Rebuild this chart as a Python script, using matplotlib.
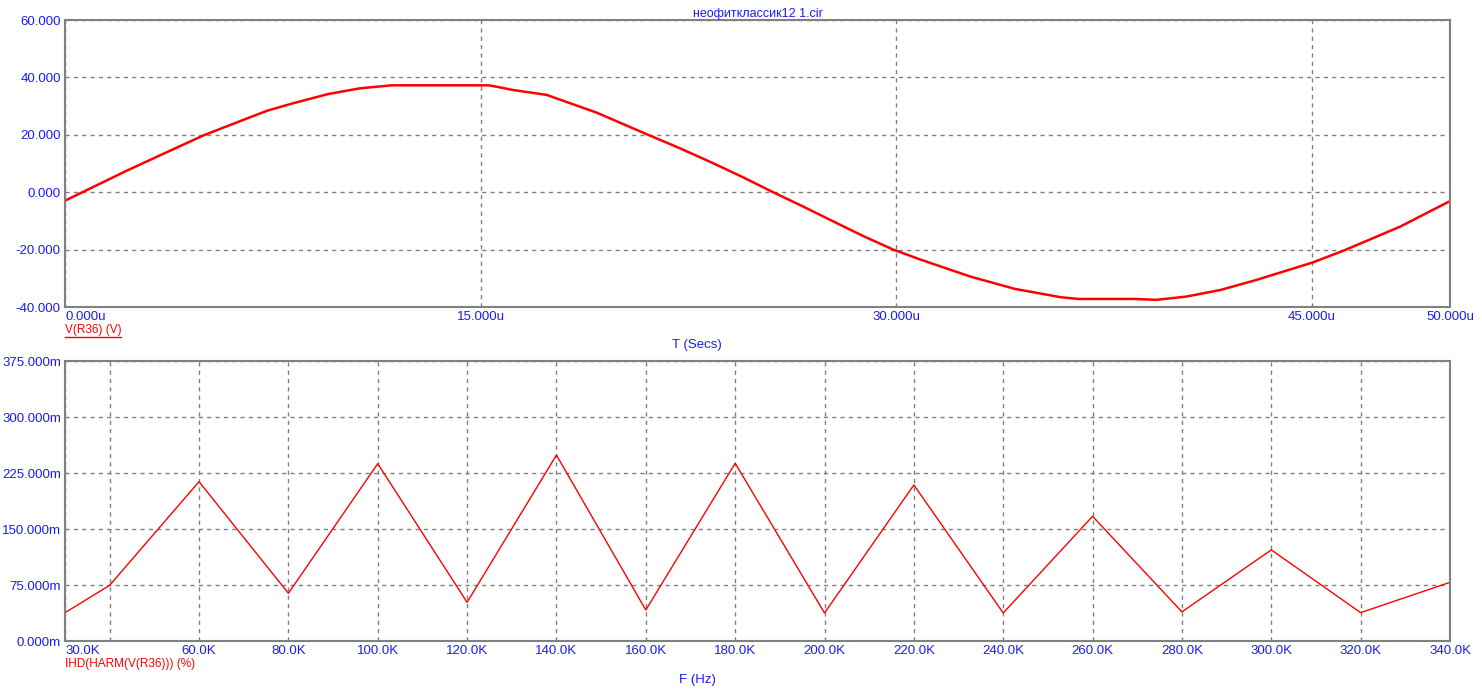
import matplotlib
matplotlib.use('Agg')
import matplotlib.pyplot as plt
from matplotlib.lines import Line2D

plt.rcParams['font.family'] = ['Liberation Sans', 'DejaVu Sans']
plt.rcParams['font.size'] = 9.5

BLUE = '#1a1aff'
RED = '#ff0000'
GRAY = '#808080'

# transient V(R36), time in us
t_us = [0, 2.23, 3.6, 5.0, 6.44, 7.3, 8.24, 9.5, 10.65, 11.8, 15.3, 15.5, 16.18, 17.39,
        19.2, 20.16, 21.1, 22.2, 23.4, 24.5, 25.56, 26.65, 27.7, 28.8, 29.9, 30.86,
        31.8, 32.72, 34.3, 35.95, 36.6, 38.65, 39.4, 40.46, 41.7, 43.0, 45.04, 46.2,
        48.2, 50]
v_r36 = [-2.96, 7.5, 13.6, 19.8, 25.2, 28.4, 31.0, 34.2, 36.2, 37.24, 37.24, 36.9, 35.6,
         33.9, 27.7, 23.7, 19.8, 15.3, 10.1, 5.1, 0, -5.0, -10.0, -15.2, -20, -23.4,
         -26.5, -29.5, -33.7, -36.6, -37.2, -37.2, -37.5, -36.4, -34.1, -30.6, -24.5,
         -20.2, -12.0, -3.1]

t_ticks = [0, 15, 30, 45, 50]
t_labels = ['0.000u', '15.000u', '30.000u', '45.000u', '50.000u']
v_ticks = [-40, -20, 0, 20, 40, 60]
v_labels = ['-40.000', '-20.000', '0.000', '20.000', '40.000', '60.000']

# harmonic distortion, freq in kHz, IHD in m%
f_khz = [30, 40, 60, 80, 100, 120, 140, 160, 180, 200, 220, 240, 260, 280, 300, 320, 340]
ihd_m = [37.9, 74.6, 213.4, 63.9, 237.5, 51.8, 249, 41.5, 238, 37.5, 209, 37.5,
         167, 39, 122, 38, 78.6]

f_ticks = [30, 40] + list(range(60, 341, 20))
f_labels = ['30.0K', ''] + ['%d.0K' % f for f in range(60, 341, 20)]
i_ticks = [0, 75, 150, 225, 300, 375]
i_labels = ['0.000m', '75.000m', '150.000m', '225.000m', '300.000m', '375.000m']

fig = plt.figure(figsize=(14.82, 7.0), dpi=100)
W, H = 1482, 700


def make_axes(l, t, r, b):
    ax = fig.add_axes([l / W, 1 - b / H, (r - l) / W, (b - t) / H])
    for s in ax.spines.values():
        s.set_color(GRAY)
        s.set_linewidth(1.5)
    ax.tick_params(length=0, colors=BLUE, pad=3)
    ax.grid(True, color=GRAY, linestyle=(0, (3, 3)), linewidth=1)
    return ax


ax1 = make_axes(65, 20, 1450, 307)
ax1.plot(t_us, v_r36, color=RED, linewidth=1.8)
ax1.set_xlim(0, 50)
ax1.set_ylim(-40, 60)
ax1.set_xticks(t_ticks, t_labels)
ax1.set_yticks(v_ticks, v_labels)
ax1.get_xticklabels()[0].set_horizontalalignment('left')
ax1.set_title('неофитклассик12 1.cir', color=BLUE, fontsize=9, pad=1.5)

ax2 = make_axes(65, 361, 1450, 641)
ax2.plot(f_khz, ihd_m, color=RED, linewidth=1)
ax2.set_xlim(30, 340)
ax2.set_ylim(0, 375)
ax2.set_xticks(f_ticks, f_labels)
ax2.set_yticks(i_ticks, i_labels)
ax2.get_xticklabels()[0].set_horizontalalignment('left')

for a in (ax1, ax2):
    for lab in a.get_xticklabels() + a.get_yticklabels():
        lab.set_color(BLUE)

# axis captions
fig.text(65 / W, 1 - 330 / H, 'V(R36) (V)', color=RED, va='center', ha='left', fontsize=8.5)
fig.text(697 / W, 1 - 345 / H, 'T (Secs)', color=BLUE, va='center', ha='center')
fig.text(65 / W, 1 - 664 / H, 'IHD(HARM(V(R36))) (%)', color=RED, va='center', ha='left',
         fontsize=8.5)
fig.text(697 / W, 1 - 680 / H, 'F (Hz)', color=BLUE, va='center', ha='center')

# underline for the first trace name
fig.add_artist(Line2D([65 / W, 121 / W], [1 - 337 / H, 1 - 337 / H], color=RED, linewidth=1))

fig.savefig('out.png', dpi=100)
